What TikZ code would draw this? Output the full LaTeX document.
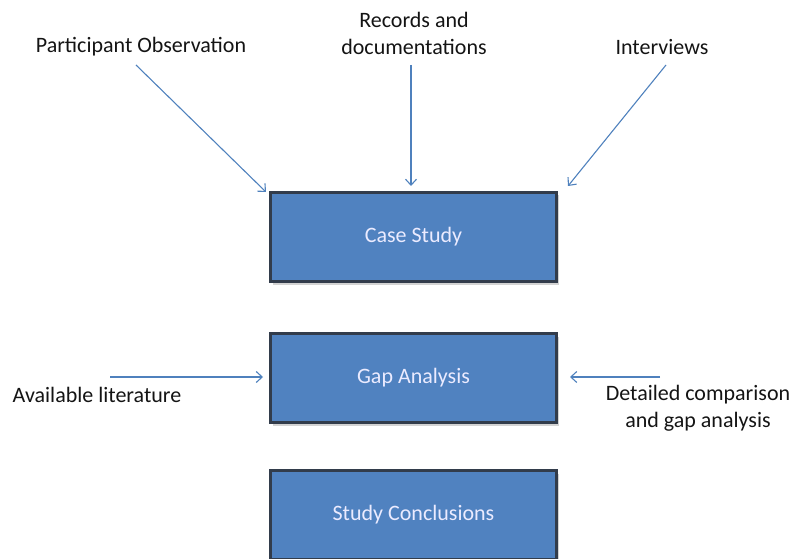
\documentclass[tikz,border=0pt]{standalone}
\usepackage{fontspec}
\setmainfont{Carlito}
\usetikzlibrary{arrows.meta,shadows}
\definecolor{boxblue}{RGB}{80,130,192}
\definecolor{boxedge}{RGB}{50,60,75}
\definecolor{arrblue}{RGB}{79,129,189}
\definecolor{txt}{RGB}{20,20,20}
\tikzset{
  procbox/.style={draw=boxedge, line width=2.5pt, fill=boxblue, minimum width=286pt, minimum height=89pt, inner sep=0pt, text=white!92!blue, font=\fontsize{22}{26}\selectfont, drop shadow={shadow xshift=2pt, shadow yshift=-3pt, opacity=0.35}},
  lbl/.style={text=txt, font=\fontsize{22}{27}\selectfont, align=center, inner sep=0pt},
  feed/.style={draw=arrblue, line width=1.1pt, -{Straight Barb[length=6pt,width=11pt]}}
}
\begin{document}
\begin{tikzpicture}[x=1pt,y=-1pt]
\useasboundingbox (0,0) rectangle (793,559);
\node[procbox] (cs) at (413.5,237) {Case Study};
\node[procbox] (ga) at (413.5,378) {Gap Analysis};
\node[procbox] (sc) at (413.5,515) {Study Conclusions};
\node[lbl] (po) at (141,47) {Participant Observation};
\node[lbl] (rd) at (414,33) {Records and\\documentations};
\node[lbl] (iv) at (662,47) {Interviews};
\node[lbl] (al) at (97,395) {Available literature};
\node[lbl] (dc) at (698,408) {Detailed comparison\\and gap analysis};
\coordinate (poS) at (136,65);
\coordinate (rdS) at (411,65);
\coordinate (ivS) at (666,65);
\coordinate (alS) at (110,377);
\coordinate (dcS) at (660,377);
\coordinate (poE) at (266,192);
\coordinate (rdE) at (411,186);
\coordinate (ivE) at (568,186);
\coordinate (alE) at (263,377);
\coordinate (dcE) at (570,377);
\draw[feed] (poS) -- (poE);
\draw[feed] (rdS) -- (rdE);
\draw[feed] (ivS) -- (ivE);
\draw[feed] (alS) -- (alE);
\draw[feed] (dcS) -- (dcE);
\end{tikzpicture}
\end{document}
